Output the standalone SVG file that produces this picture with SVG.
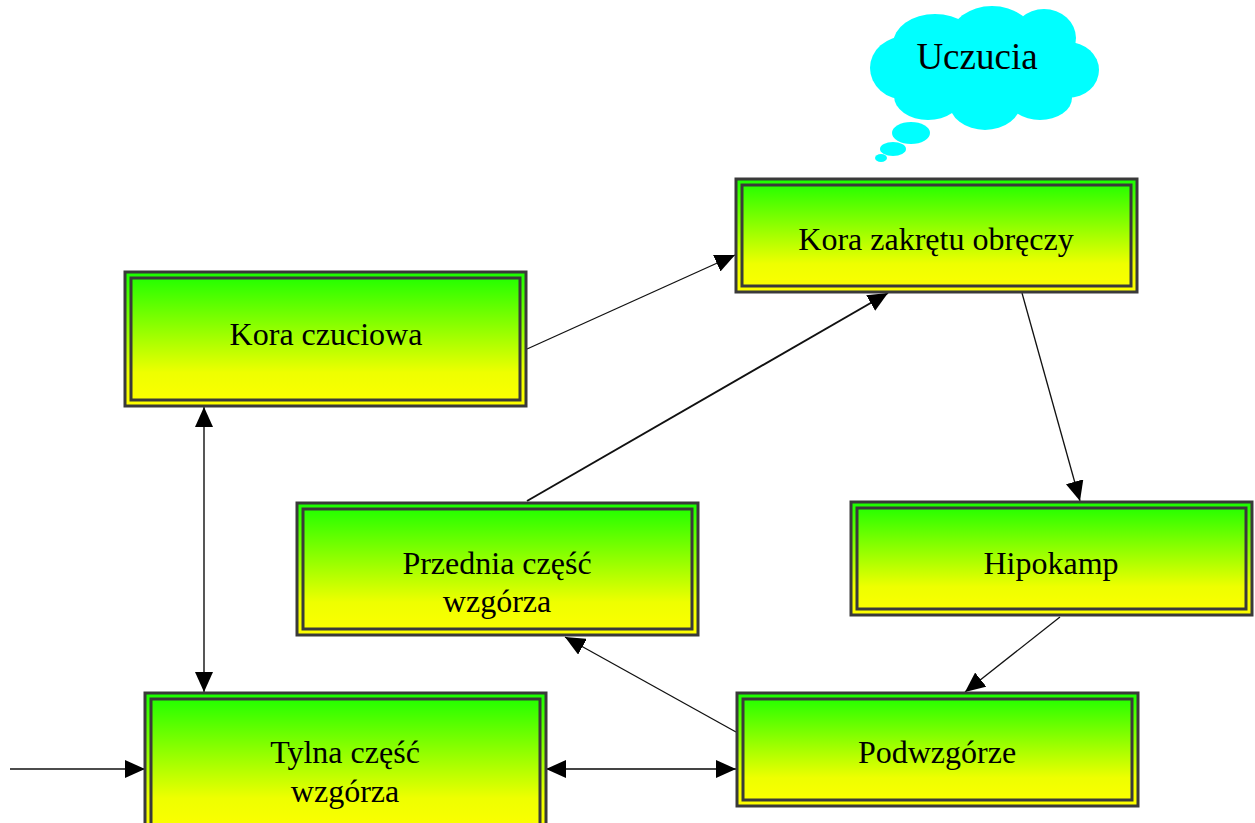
<svg xmlns="http://www.w3.org/2000/svg" width="1255" height="823" viewBox="0 0 1255 823">
  <style>
    .outer { stroke: #3a3a3a; stroke-width: 3; }
    .inner { fill: none; stroke: #3a3a3a; stroke-width: 3; }
    .label { font-family: "Liberation Serif", "Times New Roman", serif; font-size: 32px; fill: #000; text-anchor: middle; }
    .link { stroke: #111; stroke-width: 1.3; fill: none; }
    .cloud { fill: #00ffff; }
  </style>
  <defs>
    <linearGradient id="boxFill" x1="0" y1="0" x2="0" y2="1">
      <stop offset="0" stop-color="#18ff00"/>
      <stop offset="0.75" stop-color="#eeff00"/>
      <stop offset="1" stop-color="#ffff00"/>
    </linearGradient>
    <marker id="arrow" viewBox="0 0 20 18" refX="20" refY="9" markerWidth="20" markerHeight="18" markerUnits="userSpaceOnUse" orient="auto-start-reverse">
      <path d="M0,0 L20,9 L0,18 z" fill="#000"/>
    </marker>
  </defs>

  <rect width="1255" height="823" fill="#ffffff"/>

  <!-- thought cloud -->
  <g id="cloud">
    <ellipse class="cloud" cx="906" cy="68" rx="36" ry="32"/>
    <ellipse class="cloud" cx="935" cy="44" rx="42" ry="30"/>
    <ellipse class="cloud" cx="992" cy="38" rx="42" ry="32"/>
    <ellipse class="cloud" cx="1044" cy="38" rx="32" ry="29"/>
    <ellipse class="cloud" cx="1068" cy="70" rx="31" ry="28"/>
    <ellipse class="cloud" cx="1040" cy="98" rx="32" ry="22"/>
    <ellipse class="cloud" cx="985" cy="102" rx="36" ry="28"/>
    <ellipse class="cloud" cx="928" cy="96" rx="34" ry="24"/>
    <ellipse class="cloud" cx="985" cy="70" rx="80" ry="40"/>
    <ellipse class="cloud" cx="911" cy="133" rx="19" ry="11"/>
    <ellipse class="cloud" cx="893" cy="149" rx="13" ry="7"/>
    <ellipse class="cloud" cx="881" cy="158" rx="6" ry="4"/>
    <text x="977" y="69" class="label" style="font-size:37px">Uczucia</text>
  </g>

  <!-- connectors -->
  <g id="connectors">
    <line class="link" x1="527" y1="349" x2="735" y2="255" marker-end="url(#arrow)"/>
    <line class="link" x1="527" y1="501" x2="888" y2="293" marker-end="url(#arrow)" style="stroke-width:2"/>
    <line class="link" x1="1022" y1="293" x2="1080" y2="501" marker-end="url(#arrow)"/>
    <line class="link" x1="1060" y1="617" x2="965" y2="692" marker-end="url(#arrow)"/>
    <line class="link" x1="736" y1="732" x2="565" y2="637" marker-end="url(#arrow)"/>
    <line class="link" x1="204" y1="407" x2="204" y2="692" marker-start="url(#arrow)" marker-end="url(#arrow)" style="stroke:#444;stroke-width:1.8"/>
    <line class="link" x1="546" y1="769" x2="736" y2="769" marker-start="url(#arrow)" marker-end="url(#arrow)" style="stroke:#444;stroke-width:1.8"/>
    <line class="link" x1="10" y1="769" x2="145" y2="769" marker-end="url(#arrow)"/>
  </g>

  <!-- nodes -->
  <g id="kora-czuciowa">
    <rect class="outer" x="125" y="272" width="401" height="134" fill="url(#boxFill)"/>
    <rect class="inner" x="131" y="278" width="389" height="122"/>
    <text class="label" x="326" y="345">Kora czuciowa</text>
  </g>

  <g id="kora-zakretu-obreczy">
    <rect class="outer" x="736" y="179" width="401" height="113" fill="url(#boxFill)"/>
    <rect class="inner" x="742" y="185" width="389" height="101"/>
    <text class="label" x="936" y="250">Kora zakrętu obręczy</text>
  </g>

  <g id="przednia-czesc-wzgorza">
    <rect class="outer" x="297" y="503" width="401" height="132" fill="url(#boxFill)"/>
    <rect class="inner" x="303" y="509" width="389" height="120"/>
    <text class="label" x="497" y="574">Przednia część</text>
    <text class="label" x="497" y="612">wzgórza</text>
  </g>

  <g id="hipokamp">
    <rect class="outer" x="851" y="502" width="401" height="113" fill="url(#boxFill)"/>
    <rect class="inner" x="857" y="508" width="389" height="101"/>
    <text class="label" x="1051" y="574">Hipokamp</text>
  </g>

  <g id="podwzgorze">
    <rect class="outer" x="737" y="693" width="401" height="113" fill="url(#boxFill)"/>
    <rect class="inner" x="743" y="699" width="389" height="101"/>
    <text class="label" x="937" y="763">Podwzgórze</text>
  </g>

  <g id="tylna-czesc-wzgorza">
    <rect class="outer" x="145" y="693" width="401" height="140" fill="url(#boxFill)"/>
    <rect class="inner" x="151" y="699" width="389" height="128"/>
    <text class="label" x="345" y="763">Tylna część</text>
    <text class="label" x="345" y="802">wzgórza</text>
  </g>
</svg>
